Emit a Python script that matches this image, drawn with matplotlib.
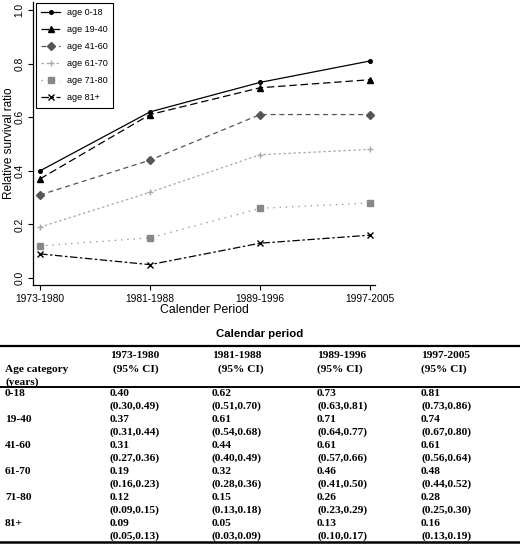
import matplotlib
matplotlib.use("Agg")
import matplotlib.pyplot as plt
from matplotlib.lines import Line2D

plt.rcParams['font.family'] = ['Liberation Sans', 'DejaVu Sans']

# data
periods = ['1973-1980', '1981-1988', '1989-1996', '1997-2005']
age_groups = ['0-18', '19-40', '41-60', '61-70', '71-80', '81+']

rsr_0_18 = [0.40, 0.62, 0.73, 0.81]
rsr_19_40 = [0.37, 0.61, 0.71, 0.74]
rsr_41_60 = [0.31, 0.44, 0.61, 0.61]
rsr_61_70 = [0.19, 0.32, 0.46, 0.48]
rsr_71_80 = [0.12, 0.15, 0.26, 0.28]
rsr_81 = [0.09, 0.05, 0.13, 0.16]

ci_0_18 = [(0.30, 0.49), (0.51, 0.70), (0.63, 0.81), (0.73, 0.86)]
ci_19_40 = [(0.31, 0.44), (0.54, 0.68), (0.64, 0.77), (0.67, 0.80)]
ci_41_60 = [(0.27, 0.36), (0.40, 0.49), (0.57, 0.66), (0.56, 0.64)]
ci_61_70 = [(0.16, 0.23), (0.28, 0.36), (0.41, 0.50), (0.44, 0.52)]
ci_71_80 = [(0.09, 0.15), (0.13, 0.18), (0.23, 0.29), (0.25, 0.30)]
ci_81 = [(0.05, 0.13), (0.03, 0.09), (0.10, 0.17), (0.13, 0.19)]

estimates = [rsr_0_18, rsr_19_40, rsr_41_60, rsr_61_70, rsr_71_80, rsr_81]
intervals = [ci_0_18, ci_19_40, ci_41_60, ci_61_70, ci_71_80, ci_81]

# styles per age group: color, dashes, marker, markersize
styles = [
    ('black', None, 'o', 2.6),
    ('black', (6, 3), '^', 4.0),
    ('#555555', (4, 3), 'D', 4.5),
    ('#aaaaaa', (2, 2), '+', 5.0),
    ('#888888', (1, 4), 's', 3.8),
    ('black', (6, 2, 2, 2), 'x', 3.8),
]

W, H = 520, 550
fig = plt.figure(figsize=(W / 100, H / 100), dpi=100)


def fy(py):
    return 1 - py / H


def fx(px):
    return px / W


ax = fig.add_axes([fx(33), fy(285), fx(375 - 33), (285 - 2) / H])
xs = list(range(len(periods)))
handles = []
for grp, vals, (col, dash, mk, ms) in zip(age_groups, estimates, styles):
    kw = dict(color=col, lw=0.9, marker=mk, ms=ms, mfc=col, mec=col, mew=1.0)
    if dash is None:
        ln, = ax.plot(xs, vals, ls='-', **kw)
    else:
        ln, = ax.plot(xs, vals, ls=(0, dash), **kw)
    ln.set_label('age ' + grp)
    handles.append(ln)

ax.set_xlim(-0.064, 3.045)
ax.set_ylim(-0.026, 1.03)
ax.set_xticks(xs)
ax.set_xticklabels(periods)
ax.set_yticks([0.0, 0.2, 0.4, 0.6, 0.8, 1.0])
ax.set_yticklabels(['0.0', '0.2', '0.4', '0.6', '0.8', '1.0'], rotation=90, va='center')
ax.spines['top'].set_visible(False)
ax.spines['right'].set_visible(False)
ax.spines['left'].set_linewidth(0.9)
ax.spines['bottom'].set_linewidth(0.9)
ax.tick_params(direction='out', length=3.5, width=0.8, labelsize=7.4, pad=3)
ax.tick_params(axis='y', pad=2.5)
ax.set_xlabel('Calender Period', fontsize=8.8, labelpad=0)
ax.set_ylabel('Relative survival ratio', fontsize=8.5, va='center')
ax.yaxis.set_label_coords(-24 / 342, 0.5)

leg = ax.legend(handles=handles, loc='upper left', bbox_to_anchor=(3 / 342, 1 - 1 / 283),
                borderaxespad=0, fancybox=False, framealpha=1, edgecolor='black',
                prop={'size': 6.5},
                handlelength=2.1, handletextpad=0.75, labelspacing=0.88, borderpad=0.6)
leg.get_frame().set_linewidth(0.8)

# table below the chart
serif = {'family': 'Liberation Serif', 'weight': 'bold', 'size': 8.2}
fig.text(fx(260), fy(337), 'Calendar period', ha='center', va='baseline',
         weight='bold', size=8.2)
fig.add_artist(Line2D([0, 1], [fy(346), fy(346)], color='black', lw=1.6))
col_x = [110, 212, 317, 421]
ci_x = [113, 218, 317, 421]
for p, cx, cix in zip(periods, col_x, ci_x):
    fig.text(fx(cx), fy(358), p, ha='left', va='baseline', **serif)
    fig.text(fx(cix), fy(372), '(95% CI)', ha='left', va='baseline', **serif)
fig.text(fx(5), fy(372), 'Age category', ha='left', va='baseline', **serif)
fig.text(fx(5), fy(385), '(years)', ha='left', va='baseline', **serif)
fig.add_artist(Line2D([0, 1], [fy(386.5), fy(386.5)], color='black', lw=1.4))

row_y = 396
step = 13
for grp, vals, cis in zip(age_groups, estimates, intervals):
    fig.text(fx(5), fy(row_y), grp, ha='left', va='baseline', **serif)
    for cx, v, (lo, hi) in zip(col_x, vals, cis):
        fig.text(fx(cx), fy(row_y), f'{v:.2f}', ha='left', va='baseline', **serif)
        fig.text(fx(cx), fy(row_y + step), f'({lo:.2f},{hi:.2f})', ha='left', va='baseline', **serif)
    row_y += 2 * step
fig.add_artist(Line2D([0, 1], [fy(542), fy(542)], color='black', lw=1.8))

fig.savefig('out.png', dpi=100)
